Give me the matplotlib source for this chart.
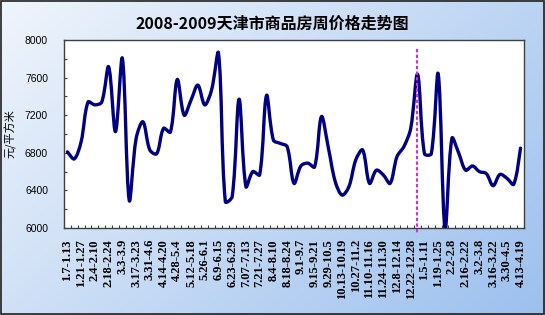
import numpy as np
import matplotlib
matplotlib.use("Agg")
import matplotlib.pyplot as plt
from matplotlib.path import Path
from matplotlib.patches import PathPatch, Rectangle
from matplotlib.ticker import MultipleLocator, FixedLocator

# ---------------- data ----------------
title = "2008-2009天津市商品房周价格走势图"
y_label = "元/平方米"
tick_labels = ["1.7-1.13", "1.21-1.27", "2.4-2.10", "2.18-2.24", "3.3-3.9", "3.17-3.23",
               "3.31-4.6", "4.14-4.20", "4.28-5.4", "5.12-5.18", "5.26-6.1", "6.9-6.15",
               "6.23-6.29", "7.07-7.13", "7.21-7.27", "8.4-8.10", "8.18-8.24", "9.1-9.7",
               "9.15-9.21", "9.29-10.5", "10.13-10.19", "10.27-11.2", "11.10-11.16",
               "11.24-11.30", "12.8-12.14", "12.22-12.28", "1.5-1.11", "1.19-1.25",
               "2.2-2.8", "2.16-2.22", "3.2-3.8", "3.16-3.22", "3.30-4.5", "4.13-4.19"]
prices = [6810, 6735, 6920, 7340, 7310, 7340, 7715, 7025, 7805, 6295,
          6950, 7130, 6830, 6790, 7060, 7020, 7580, 7200, 7360, 7520,
          7310, 7470, 7860, 6280, 6335, 7370, 6440, 6600, 6565, 7410,
          6935, 6900, 6865, 6475, 6660, 6690, 6650, 7185, 6855, 6495,
          6350, 6440, 6725, 6830, 6475, 6615, 6565, 6475, 6760, 6865,
          7060, 7635, 6790, 6790, 7640, 5990, 6955, 6795, 6615, 6660,
          6600, 6580, 6450, 6570, 6530, 6465, 6850]
divider_week = 50.9          # position of the magenta year divider (category units)
y_min, y_max, y_step = 6000, 8000, 400

# ---------------- figure ----------------
W, H = 545, 315
fig = plt.figure(figsize=(W / 100, H / 100), dpi=100)

# gradient background
bg = fig.add_axes([0, 0, 1, 1], zorder=0)
gx, gy = np.meshgrid(np.linspace(0, 1, 300), np.linspace(0, 1, 200))
t = np.clip(0.62 * gx + 0.38 * gy, 0, 1)
light = np.array([0xf0, 0xf5, 0xfc]) / 255
dark = np.array([0x9c, 0xc0, 0xee]) / 255
img = light[None, None, :] * (1 - t[..., None]) + dark[None, None, :] * t[..., None]
bg.imshow(img, extent=[0, 1, 0, 1], aspect="auto", origin="upper")
bg.set_axis_off()

left, right = 64 / W, 524 / W
bottom, top = 1 - 228 / H, 1 - 40 / H
ax = fig.add_axes([left, bottom, right - left, top - bottom], zorder=1)
ax.set_facecolor("white")

n = len(prices)
ax.set_xlim(-0.5, n - 0.5)
ax.set_ylim(y_min, y_max)

# smoothed line: Bezier through the data points, tangents scaled by chord length
pts = ax.transData.transform(np.column_stack([np.arange(n, dtype=float),
                                              np.asarray(prices, dtype=float)]))
d = np.hypot(*np.diff(pts, axis=0).T)
tang = np.zeros_like(pts)
tang[1:-1] = pts[2:] - pts[:-2]
tang[0] = pts[1] - pts[0]
tang[-1] = pts[-1] - pts[-2]
f = 1.0 / 3.0
verts = [pts[0]]
codes = [Path.MOVETO]
for i in range(n - 1):
    dl = d[i - 1] if i > 0 else d[i]
    dr = d[i + 1] if i + 1 < n - 1 else d[i]
    c1 = pts[i] + tang[i] * f * d[i] / (dl + d[i])
    c2 = pts[i + 1] - tang[i + 1] * f * d[i] / (d[i] + dr)
    verts += [c1, c2, pts[i + 1]]
    codes += [Path.CURVE4] * 3
verts = ax.transData.inverted().transform(np.array(verts))
line = PathPatch(Path(verts, codes), facecolor="none", edgecolor="#000080",
                 lw=2.4, joinstyle="round", capstyle="round", zorder=3,
                 transform=ax.transData)
ax.add_patch(line)
ax.set_xlim(-0.5, n - 0.5)
ax.set_ylim(y_min, y_max)

# divider
ax.plot([divider_week, divider_week], [7904, 5947], color="#CC33CC", lw=1.5,
        ls=(0, (1.6, 1.1)), clip_on=False, zorder=4)

# axes styling
for s in ax.spines.values():
    s.set_color("#404040")
    s.set_linewidth(1.0)

ax.yaxis.set_major_locator(MultipleLocator(y_step))
ax.yaxis.set_minor_locator(MultipleLocator(y_step / 2))
ax.tick_params(axis="y", which="both", direction="in", length=2.4, width=0.8,
               color="#404040", pad=11.5, labelsize=7.5)
for lab in ax.get_yticklabels():
    lab.set_fontfamily("Liberation Sans")

ax.xaxis.set_major_locator(FixedLocator(list(range(0, n, 2))))
ax.set_xticklabels(tick_labels, rotation=90, fontsize=9, fontweight="bold",
                   fontfamily="Liberation Serif", va="top", ha="center")
ax.xaxis.set_minor_locator(FixedLocator(list(np.arange(-0.5, n, 1.0))))
ax.tick_params(axis="x", which="major", length=0, pad=8)
ax.tick_params(axis="x", which="minor", direction="in", length=2.4, width=0.8,
               color="#404040")

fig.text(0.5, 1 - 23.5 / H, title, ha="center", va="center", fontsize=11.5,
         fontweight="bold", family=["Noto Sans CJK SC", "DejaVu Sans"])
fig.text(10 / W, 1 - 134 / H, y_label, ha="center", va="center", rotation=90,
         fontsize=8, family=["Noto Sans CJK SC", "DejaVu Sans"])

fig.patches.append(Rectangle((0.001, 0.002), 0.997, 0.996, transform=fig.transFigure,
                             fill=False, edgecolor="#202020", lw=1.2, zorder=10))

fig.savefig("out.png", dpi=100)
